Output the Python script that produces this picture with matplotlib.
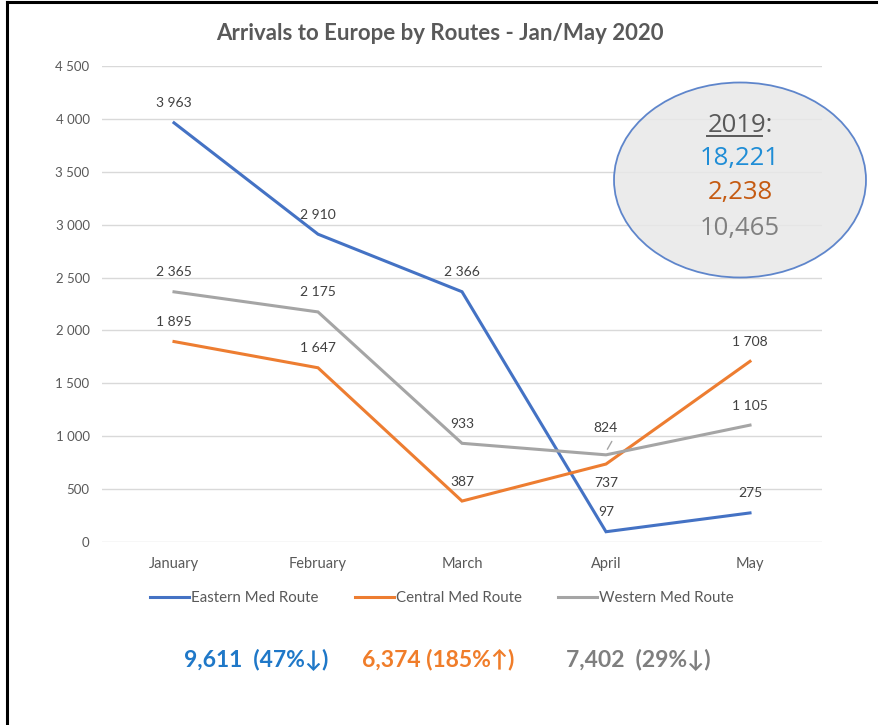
import matplotlib
matplotlib.use("Agg")
import matplotlib.pyplot as plt
from matplotlib.patches import Ellipse
from matplotlib.lines import Line2D

plt.rcParams['font.family'] = ['Lato', 'DejaVu Sans']

months = ["January", "February", "March", "April", "May"]
eastern = [3963, 2910, 2366, 97, 275]
central = [1895, 1647, 387, 737, 1708]
western = [2365, 2175, 933, 824, 1105]
series_names = ["Eastern Med Route", "Central Med Route", "Western Med Route"]
yticks = [0, 500, 1000, 1500, 2000, 2500, 3000, 3500, 4000, 4500]
totals_2019 = ["18,221", "2,238", "10,465"]
totals_2020 = ["9,611  (47%\u2193)", "6,374 (185%\u2191)", "7,402  (29%\u2193)"]

colors = ["#4472c4", "#ed7d31", "#a5a5a5"]

def fmt(v):
    return f"{v:,}".replace(",", " ")

fig = plt.figure(figsize=(8.84, 7.25), dpi=100)
ax = fig.add_axes([102/884, 1-542/725, 720/884, 476/725])

x = list(range(len(months)))
data = [eastern, central, western]
lines = []
for vals, c, name in zip(data, colors, series_names):
    ln, = ax.plot(x, vals, color=c, lw=2.2, label=name, zorder=3, solid_joinstyle='miter')
    lines.append(ln)

# data labels
below = {(1, 3)}
for si, vals in enumerate(data):
    for i, v in enumerate(vals):
        if (si, i) in below:
            dy = -14
        else:
            dy = 14
            if si == 2 and i == 3:
                dy = 19
        ax.annotate(fmt(v), (i, v), xytext=(0, dy), textcoords='offset points',
                    ha='center', va='center', fontsize=10, color='#404040', zorder=5)
# leader line for 824
ax.annotate("", xy=(3, western[3] + 30), xytext=(3.05, western[3] + 150),
            arrowprops=dict(arrowstyle='-', color='#a5a5a5', lw=1))

ax.set_xlim(-0.5, 4.5)
ax.set_ylim(0, 4500)
ax.set_yticks(yticks)
ax.set_yticklabels([fmt(v) for v in yticks], fontsize=9.5, color='#595959')
ax.set_xticks(x)
ax.set_xticklabels(months, fontsize=10.5, color='#595959')
ax.tick_params(axis='y', length=0, pad=9)
ax.tick_params(axis='x', length=0, pad=11)
ax.grid(axis='y', color='#d9d9d9', lw=1, zorder=0)
for s in ax.spines.values():
    s.set_visible(False)
ax.set_axisbelow(True)

fig.text(440/884, 1-33/725, "Arrivals to Europe by Routes - Jan/May 2020", ha='center', va='center',
         fontsize=16, fontweight='bold', color='#595959')

leg = fig.legend(handles=lines, loc='center', bbox_to_anchor=(442/884, 1-598/725), ncol=3,
                 frameon=False, fontsize=10.8, handlelength=2.6, handletextpad=0.15, columnspacing=2.4)
for t in leg.get_texts():
    t.set_color('#595959')

# ellipse
ell = Ellipse((740/884, 1-180/725), 252/884, 195/725, transform=fig.transFigure,
              facecolor='#e8e8e8', edgecolor='#4472c4', lw=1.3, alpha=0.85, zorder=10)
fig.add_artist(ell)
fig.text(740/884, 1-125/725, "2019:", ha='center', va='center', fontsize=18.5,
         color='#595959', zorder=11, family=['Open Sans', 'DejaVu Sans'])
fig.add_artist(Line2D([707/884, 762/884], [1-136/725, 1-136/725], color='#595959', lw=1.4, zorder=11))
ys19 = [158, 193, 229]
cols19 = ['#1f8dd6', '#c55a11', '#808080']
for txt, yy, cc in zip(totals_2019, ys19, cols19):
    fig.text(740/884, 1-yy/725, txt, ha='center', va='center', fontsize=18.5, color=cc, zorder=11,
             family=['Open Sans', 'DejaVu Sans'])

# bottom totals
xs20 = [256, 438, 638]
cols20 = ['#1f78c8', '#f07d2a', '#7f7f7f']
for txt, xx, cc in zip(totals_2020, xs20, cols20):
    fig.text(xx/884, 1-660/725, txt, ha='center', va='center', fontsize=16.5, fontweight='bold', color=cc,
             family=['Lato', 'DejaVu Sans'])

# frame border
fig.add_artist(Line2D([7.5/884, 7.5/884], [0, 1-2/725], color='black', lw=2.2))
fig.add_artist(Line2D([7.5/884, 876/884], [1-2/725, 1-2/725], color='black', lw=2.2))

fig.savefig("out.png", dpi=100)
